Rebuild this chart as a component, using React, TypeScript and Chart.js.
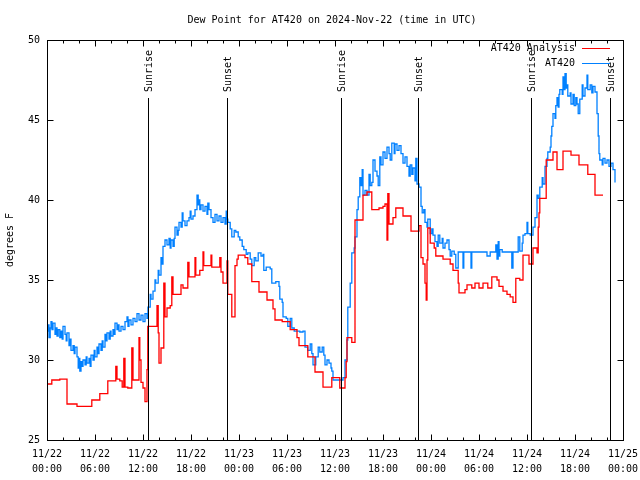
import React, { useEffect, useRef } from 'react';
import { Chart, registerables } from 'chart.js';

Chart.register(...registerables);

const FONT_FAMILY = '"DejaVu Sans Mono", "Liberation Mono", monospace';
const FONT = `10px ${FONT_FAMILY}`;

const chartTitle = 'Dew Point for AT420 on 2024-Nov-22 (time in UTC)';
const yAxisTitle = 'degrees F';

// x tick labels, every 6 hours from 11/22 00:00 UTC
const xTickDates = ['11/22', '11/22', '11/22', '11/22', '11/23', '11/23', '11/23', '11/23', '11/24', '11/24', '11/24', '11/24', '11/25'];
const xTickTimes = ['00:00', '06:00', '12:00', '18:00', '00:00', '06:00', '12:00', '18:00', '00:00', '06:00', '12:00', '18:00', '00:00'];

// sunrise / sunset events (hours since 11/22 00:00 UTC)
const sunHours = [12.62, 22.54, 36.69, 46.41, 60.54, 70.38];
const sunLabels = ['Sunrise', 'Sunset', 'Sunrise', 'Sunset', 'Sunrise', 'Sunset'];

const seriesNames = ['AT420 Analysis', 'AT420'];

// AT420 observed dew point (hours since 11/22 00:00 UTC, deg F)
const obsHours = [
  0, 0.12, 0.25, 0.4, 0.5, 0.62, 0.75, 1.0, 1.12, 1.25,
  1.4, 1.6, 1.75, 1.9, 2.0, 2.25, 2.4, 2.5, 2.75, 2.9,
  3.0, 3.25, 3.4, 3.5, 3.75, 3.9, 4.0, 4.1, 4.25, 4.4,
  4.5, 4.75, 4.9, 5.0, 5.25, 5.4, 5.5, 5.75, 5.9, 6.0,
  6.25, 6.4, 6.5, 6.75, 6.9, 7.0, 7.25, 7.4, 7.5, 7.75,
  7.9, 8.0, 8.25, 8.4, 8.5, 8.75, 8.9, 9.0, 9.25, 9.5,
  9.75, 10.0, 10.12, 10.25, 10.5, 10.75, 11.0, 11.25, 11.5, 11.75,
  12.0, 12.25, 12.5, 12.62, 12.9, 13.0, 13.25, 13.5, 13.6, 13.9,
  14.0, 14.25, 14.4, 14.5, 14.75, 15.0, 15.25, 15.4, 15.5, 15.75,
  15.9, 16.0, 16.25, 16.4, 16.5, 16.75, 16.9, 17.0, 17.25, 17.5,
  17.75, 17.9, 18.0, 18.25, 18.5, 18.75, 18.9, 19.0, 19.1, 19.25,
  19.5, 19.75, 20.0, 20.1, 20.25, 20.5, 20.75, 21.0, 21.25, 21.5,
  21.75, 22.0, 22.25, 22.4, 22.5, 22.6, 22.9, 23.1, 23.4, 23.6,
  23.9, 24.1, 24.4, 24.6, 24.9, 25.1, 25.4, 25.6, 25.9, 26.1,
  26.4, 26.75, 27.0, 27.1, 27.4, 27.9, 28.1, 28.6, 29.0, 29.1,
  29.4, 29.5, 29.9, 30.1, 30.4, 30.6, 30.9, 31.6, 32.0, 32.25,
  32.6, 32.9, 33.1, 33.25, 33.6, 33.9, 34.1, 34.4, 34.6, 34.75,
  35.0, 35.25, 35.5, 35.6, 35.75, 36.6, 37.0, 37.25, 37.5, 37.6,
  37.9, 38.1, 38.4, 38.5, 38.75, 38.9, 39.1, 39.25, 39.4, 39.5,
  39.75, 40.0, 40.25, 40.4, 40.6, 40.75, 41.0, 41.25, 41.4, 41.6,
  41.75, 42.0, 42.25, 42.5, 42.75, 42.9, 43.1, 43.4, 43.5, 43.75,
  44.0, 44.25, 44.5, 44.75, 45.0, 45.25, 45.4, 45.6, 45.75, 46.0,
  46.1, 46.25, 46.5, 46.75, 46.9, 47.1, 47.25, 47.5, 47.6, 47.9,
  48.1, 48.25, 48.5, 48.75, 48.9, 49.1, 49.4, 49.5, 49.75, 50.0,
  50.25, 50.4, 50.6, 50.9, 51.1, 51.4, 52.0, 52.1, 53.0, 53.1,
  55.0, 55.4, 56.1, 56.25, 56.4, 56.5, 56.6, 56.9, 58.1, 58.25,
  58.9, 59.1, 59.4, 59.5, 59.75, 60.0, 60.1, 60.4, 60.75, 61.0,
  61.25, 61.4, 61.6, 61.9, 62.0, 62.25, 62.5, 62.6, 62.9, 63.0,
  63.1, 63.25, 63.5, 63.6, 63.75, 63.9, 64.0, 64.1, 64.4, 64.5,
  64.6, 64.75, 64.9, 65.0, 65.1, 65.4, 65.5, 65.75, 65.9, 66.1,
  66.25, 66.4, 66.6, 66.9, 67.0, 67.25, 67.5, 67.6, 67.9, 68.1,
  68.25, 68.5, 68.75, 68.9, 69.0, 69.1, 69.4, 69.5, 69.75, 70.0,
  70.25, 70.5, 70.75, 71.0,
];
const obsDew = [
  31.8, 32.2, 31.4, 32.0, 32.4, 31.9, 32.3, 31.6, 32.0, 31.5,
  31.9, 31.4, 31.8, 31.3, 32.1, 31.6, 31.2, 31.7, 30.9, 31.3,
  30.6, 30.9, 30.4, 30.8, 30.2, 29.5, 30.1, 29.3, 29.9, 29.6,
  30.0, 29.7, 30.2, 29.8, 30.1, 29.6, 30.3, 30.0, 30.6, 30.2,
  30.8, 30.4, 31.0, 30.6, 31.2, 30.8, 31.6, 31.2, 31.7, 31.3,
  31.8, 31.5, 31.9, 31.6, 32.3, 31.9, 32.2, 31.8, 32.1, 31.9,
  32.4, 32.7, 32.1, 32.5, 32.2, 32.6, 32.4, 32.9, 32.5, 32.8,
  32.4, 32.9, 32.6, 33.3, 34.1, 33.8, 34.3, 35.0, 34.8, 35.6,
  35.3, 36.4, 36.0, 37.1, 37.5, 37.2, 37.6, 37.0, 37.5, 37.1,
  37.6, 38.3, 37.8, 38.1, 38.6, 38.3, 39.2, 38.7, 38.4, 38.7,
  38.9, 39.3, 38.8, 39.0, 39.4, 40.3, 39.7, 40.0, 39.4, 39.7,
  39.3, 39.6, 39.1, 39.8, 39.4, 38.9, 38.6, 39.1, 38.7, 39.0,
  38.6, 38.9, 38.5, 39.3, 38.8, 38.6, 38.2, 37.7, 38.1, 38.0,
  37.7, 37.5, 37.1, 36.9, 36.6, 36.7, 36.3, 35.9, 36.4, 36.2,
  36.7, 36.5, 36.6, 35.6, 35.8, 35.7, 34.8, 34.9, 34.6, 33.8,
  33.6, 32.7, 32.6, 32.1, 32.6, 32.0, 31.8, 31.75, 31.8, 30.8,
  30.6, 31.0, 30.4, 29.7, 30.2, 30.8, 30.5, 30.8, 30.3, 29.7,
  30.0, 29.8, 29.5, 29.3, 28.75, 28.75, 28.9, 30.0, 31.25, 33.3,
  34.8, 36.7, 37.0, 37.7, 39.4, 40.2, 41.4, 40.9, 41.9, 40.3,
  40.6, 40.3, 41.6, 40.9, 41.1, 42.5, 41.8, 41.5, 40.9, 42.7,
  42.2, 43.0, 42.6, 43.3, 42.9, 42.5, 43.55, 42.9, 43.5, 43.1,
  43.4, 42.9, 42.3, 42.7, 42.1, 41.5, 42.2, 41.6, 42.0, 41.2,
  42.6, 41.0, 40.8, 39.6, 39.2, 39.4, 38.6, 38.3, 38.8, 37.9,
  38.2, 37.8, 37.4, 37.1, 37.8, 37.3, 37.6, 37.0, 37.3, 37.5,
  36.9, 36.5, 36.8, 36.6, 35.75, 36.75, 35.75, 36.75, 35.75, 36.75,
  36.5, 36.75, 37.2, 36.3, 37.4, 36.5, 36.9, 36.75, 35.75, 36.75,
  37.7, 36.8, 37.3, 37.8, 37.9, 38.6, 37.9, 37.8, 38.3, 38.9,
  40.3, 40.1, 40.8, 41.4, 41.0, 42.1, 42.6, 43.0, 43.3, 44.0,
  44.6, 45.4, 45.1, 45.9, 46.4, 45.8, 46.6, 46.9, 46.6, 47.7,
  46.9, 47.9, 47.0, 47.2, 46.5, 46.7, 46.0, 46.6, 45.9, 46.4,
  46.0, 45.4, 46.3, 47.2, 46.5, 47.0, 47.8, 46.9, 47.2, 46.7,
  47.1, 46.75, 45.4, 44.0, 42.9, 42.5, 42.2, 42.6, 42.3, 42.5,
  42.1, 42.3, 41.9, 41.1,
];

// AT420 Analysis dew point (hours since 11/22 00:00 UTC, deg F)
const anaHours = [
  0, 0.6, 1.6, 2.5, 3.75, 5.6, 6.6, 7.6, 8.6, 8.75,
  9.1, 9.4, 9.6, 9.75, 10.1, 10.6, 10.75, 11.5, 11.6, 11.75,
  12.0, 12.25, 12.5, 12.6, 13.75, 13.9, 14.0, 14.25, 14.6, 14.75,
  15.0, 15.4, 15.6, 15.75, 16.75, 17.0, 17.6, 17.75, 18.5, 18.6,
  19.1, 19.5, 19.6, 20.5, 20.6, 21.6, 21.75, 22.0, 22.5, 22.6,
  23.1, 23.5, 23.75, 23.9, 24.75, 25.1, 25.6, 26.5, 27.5, 28.25,
  28.5, 29.4, 30.4, 31.25, 31.5, 32.6, 33.5, 34.5, 35.6, 36.6,
  37.25, 37.4, 37.5, 38.1, 38.5, 39.5, 40.0, 40.6, 41.5, 42.0,
  42.25, 42.5, 42.6, 42.75, 43.0, 43.25, 43.6, 44.5, 45.5, 46.5,
  46.75, 47.0, 47.25, 47.4, 47.5, 47.6, 47.9, 48.4, 48.6, 49.5,
  50.4, 50.75, 51.4, 51.5, 52.25, 52.5, 53.1, 53.5, 54.0, 54.5,
  55.1, 55.6, 56.25, 56.5, 57.0, 57.5, 57.9, 58.25, 58.6, 59.1,
  59.5, 60.25, 60.75, 61.25, 61.4, 61.5, 61.6, 62.4, 63.25, 63.75,
  64.5, 65.5, 66.5, 67.6, 68.5, 69.5,
];
const anaDew = [
  28.5, 28.75, 28.8, 27.25, 27.1, 27.5, 27.9, 28.7, 29.6, 28.8,
  28.7, 28.3, 30.1, 28.3, 28.25, 30.75, 28.75, 31.4, 30.0, 28.6,
  28.25, 27.4, 29.4, 32.1, 33.4, 31.7, 29.8, 30.75, 34.8, 32.7,
  33.25, 33.4, 35.2, 34.1, 34.7, 34.5, 36.1, 35.2, 36.4, 35.3,
  35.6, 36.75, 35.9, 36.55, 35.8, 36.4, 35.5, 34.8, 36.2, 34.1,
  32.7, 35.9, 36.3, 36.55, 36.4, 36.0, 34.9, 34.25, 33.75, 33.2,
  32.5, 32.4, 31.9, 31.4, 30.9, 30.2, 29.25, 28.3, 28.9, 28.25,
  28.9, 29.9, 31.4, 31.1, 38.75, 40.3, 40.5, 39.4, 39.5, 39.6,
  39.75, 37.5, 40.4, 38.5, 38.5, 38.9, 39.5, 39.0, 38.06, 38.4,
  36.4, 36.0, 34.8, 33.75, 36.25, 38.25, 37.3, 37.0, 36.5, 36.3,
  36.0, 35.6, 34.8, 34.2, 34.4, 34.7, 34.5, 34.8, 34.5, 34.8,
  34.5, 35.2, 35.0, 34.6, 34.3, 34.1, 33.95, 33.6, 35.1, 35.0,
  36.55, 36.0, 37.0, 36.7, 38.3, 39.2, 40.1, 42.5, 43.0, 41.9,
  43.06, 42.8, 42.2, 41.6, 40.3, 40.3,
];

const X_MIN = 0;
const X_MAX = 72;
const X_MAJOR = 6;
const X_MINOR = 2;
const Y_MIN = 25;
const Y_MAX = 50;
const Y_STEP = 5;

const overlayPlugin = {
  id: 'gnuplotOverlay',
  afterDatasetsDraw(chart: any) {
    const { ctx, chartArea, scales } = chart;
    const { left, right, top, bottom } = chartArea;
    const xs = scales.x;
    const ys = scales.y;
    ctx.save();
    ctx.strokeStyle = '#000';
    ctx.fillStyle = '#000';
    ctx.lineWidth = 1;
    ctx.font = FONT;

    // sunrise / sunset lines
    sunHours.forEach((h, i) => {
      const px = Math.round(xs.getPixelForValue(h)) + 0.5;
      ctx.beginPath();
      ctx.moveTo(px, top + 58);
      ctx.lineTo(px, bottom);
      ctx.stroke();
      ctx.save();
      ctx.translate(px + 1, top + 52);
      ctx.rotate(-Math.PI / 2);
      ctx.textAlign = 'left';
      ctx.textBaseline = 'middle';
      ctx.fillText(sunLabels[i], 0, 0);
      ctx.restore();
    });

    // frame
    const l = Math.round(left) + 0.5;
    const r = Math.round(right) + 0.5;
    const t = Math.round(top) + 0.5;
    const b = Math.round(bottom) + 0.5;
    ctx.strokeRect(l, t, r - l, b - t);

    // x ticks (bottom and top, inward)
    ctx.beginPath();
    for (let v = X_MIN; v <= X_MAX; v += X_MINOR) {
      const px = Math.round(xs.getPixelForValue(v)) + 0.5;
      const len = v % X_MAJOR === 0 ? 6 : 3;
      ctx.moveTo(px, b);
      ctx.lineTo(px, b - len);
      ctx.moveTo(px, t);
      ctx.lineTo(px, t + len);
    }
    // y ticks (left and right, inward)
    for (let v = Y_MIN; v <= Y_MAX; v += Y_STEP) {
      const py = Math.round(ys.getPixelForValue(v)) + 0.5;
      ctx.moveTo(l, py);
      ctx.lineTo(l + 6, py);
      ctx.moveTo(r, py);
      ctx.lineTo(r - 6, py);
    }
    ctx.stroke();

    // title
    ctx.textAlign = 'center';
    ctx.textBaseline = 'middle';
    ctx.fillText(chartTitle, 332, 20);

    // legend (text left of sample line)
    const colors = ['#ff0000', '#0080ff'];
    seriesNames.forEach((name, i) => {
      const ly = top + 8 + i * 15;
      ctx.textAlign = 'right';
      ctx.fillStyle = '#000';
      ctx.fillText(name, right - 48, ly);
      ctx.strokeStyle = colors[i];
      ctx.beginPath();
      ctx.moveTo(right - 41, Math.round(ly) + 0.5);
      ctx.lineTo(right - 13, Math.round(ly) + 0.5);
      ctx.stroke();
    });
    ctx.restore();
  },
};

export default function App() {
  const canvasRef = useRef<HTMLCanvasElement | null>(null);

  useEffect(() => {
    const canvas = canvasRef.current;
    if (!canvas) return;
    const chart = new Chart(canvas, {
      type: 'line',
      data: {
        datasets: [
          {
            label: seriesNames[0],
            data: anaHours.map((h, i) => ({ x: h, y: anaDew[i] })),
            borderColor: '#ff0000',
            borderWidth: 1.3,
            pointRadius: 0,
            stepped: true,
            fill: false,
          },
          {
            label: seriesNames[1],
            data: obsHours.map((h, i) => ({ x: h, y: obsDew[i] })),
            borderColor: '#0080ff',
            borderWidth: 1.3,
            pointRadius: 0,
            stepped: true,
            fill: false,
          },
        ],
      },
      options: {
        responsive: false,
        animation: false,
        events: [],
        layout: { padding: { top: 40, right: 17, left: 0, bottom: 0 } },
        plugins: {
          legend: { display: false },
          title: { display: false },
          tooltip: { enabled: false },
        },
        scales: {
          x: {
            type: 'linear',
            min: X_MIN,
            max: X_MAX,
            grid: { display: false, drawTicks: false },
            border: { display: false },
            ticks: {
              stepSize: X_MAJOR,
              autoSkip: false,
              maxRotation: 0,
              minRotation: 0,
              padding: 7,
              color: '#000',
              font: { family: FONT_FAMILY, size: 10, lineHeight: 1.5 },
              callback: (v: any) => {
                const i = Math.round(Number(v) / X_MAJOR);
                return [xTickDates[i], xTickTimes[i]];
              },
            },
            afterFit: (scale: any) => {
              scale.height = 40;
              scale.paddingLeft = 0;
              scale.paddingRight = 0;
            },
          },
          y: {
            type: 'linear',
            min: Y_MIN,
            max: Y_MAX,
            grid: { display: false, drawTicks: false },
            border: { display: false },
            ticks: {
              stepSize: Y_STEP,
              padding: 7,
              color: '#000',
              font: { family: FONT_FAMILY, size: 10 },
            },
            title: {
              display: true,
              text: yAxisTitle,
              color: '#000',
              font: { family: FONT_FAMILY, size: 10 },
              padding: { top: 4, bottom: 0 },
            },
            afterFit: (scale: any) => {
              scale.width = 47;
              scale.paddingTop = 0;
              scale.paddingBottom = 0;
            },
          },
        },
      },
      plugins: [overlayPlugin],
    });
    return () => chart.destroy();
  }, []);

  return (
    <div style={{ position: 'fixed', left: 0, top: 0, width: 640, height: 480, background: '#fff' }}>
      <canvas ref={canvasRef} width={640} height={480} style={{ width: 640, height: 480 }} />
    </div>
  );
}
